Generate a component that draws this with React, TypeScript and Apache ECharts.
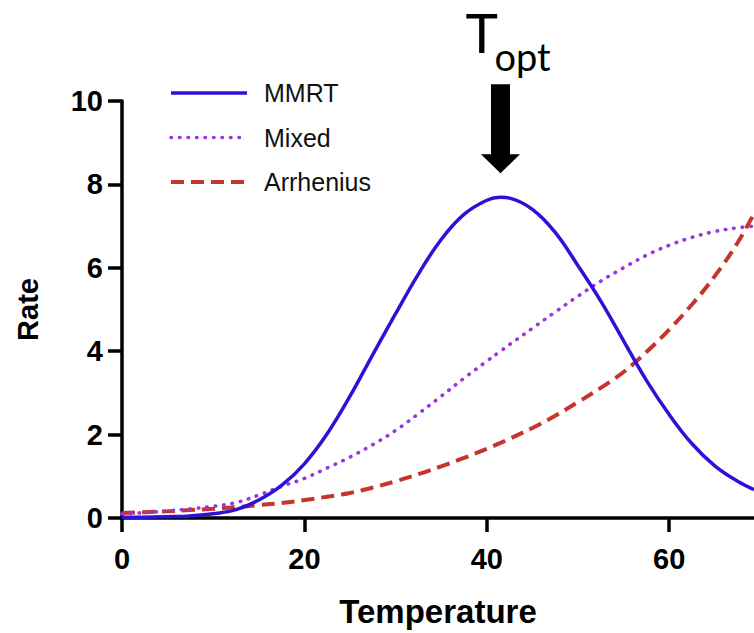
import { useEffect, useRef } from "react";
import * as echarts from "echarts";

// Temperature grid of the model curves
const temperature = [
  0, 2.5, 5, 7.5, 10, 12.5, 15, 17.5, 20, 22.5, 25, 27.5, 30, 32.5, 35, 37.5, 40, 41.5,
  42.5, 45, 47.5, 50, 52.5, 55, 57.5, 60, 62.5, 65, 67.5, 69.3,
];

// Rate predicted by each model at the temperatures above
const mmrtRate = [
  0.02, 0.02, 0.03, 0.05, 0.1, 0.2, 0.43, 0.78, 1.3, 2.02, 2.92, 3.92, 4.9, 5.85, 6.68, 7.28,
  7.62, 7.69, 7.67, 7.4, 6.85, 6.05, 5.2, 4.25, 3.3, 2.48, 1.78, 1.25, 0.88, 0.68,
];
const mixedRate = [
  0.1, 0.13, 0.17, 0.22, 0.28, 0.37, 0.55, 0.76, 0.95, 1.2, 1.46, 1.76, 2.1, 2.5, 2.92, 3.35,
  3.76, 4.0, 4.16, 4.55, 4.94, 5.32, 5.68, 6.0, 6.3, 6.54, 6.73, 6.87, 6.96, 7.0,
];
const arrheniusRate = [
  0.12, 0.14, 0.16, 0.19, 0.22, 0.26, 0.31, 0.36, 0.43, 0.51, 0.6, 0.73, 0.88, 1.05, 1.24, 1.44,
  1.66, 1.8, 1.9, 2.16, 2.45, 2.78, 3.12, 3.5, 3.98, 4.52, 5.12, 5.8, 6.6, 7.3,
];

const seriesNames = ["MMRT", "Mixed", "Arrhenius"];
const xTicks = [0, 20, 40, 60];
const xMax = 69.3;
const yMin = 0;
const yMax = 10;
const yStep = 2;

const FONT = "'Liberation Sans', Arial, Helvetica, sans-serif";

const pairs = (ys: number[]) => temperature.map((t, i) => [t, ys[i]]);

export default function App() {
  const ref = useRef<HTMLDivElement | null>(null);

  useEffect(() => {
    document.body.style.margin = "0";
    const chart = echarts.init(ref.current!, null, { renderer: "svg" });

    const axisLine = { show: true, lineStyle: { color: "#000", width: 3.5 } };
    const axisTick = { show: true, length: 14, lineStyle: { color: "#000", width: 3.5 } };
    const tickLabel = {
      color: "#000",
      fontFamily: FONT,
      fontWeight: "bold" as const,
      fontSize: 29,
    };

    chart.setOption({
      animation: false,
      backgroundColor: "#fff",
      grid: { left: 122, right: 0, top: 101, bottom: 111, containLabel: false },
      legend: {
        orient: "vertical",
        left: 169,
        top: 80.5,
        padding: 0,
        itemWidth: 76,
        itemHeight: 25,
        itemGap: 19.5,
        data: seriesNames,
        // plain line samples, no marker in the middle
        itemStyle: { opacity: 0 },
        lineStyle: { width: "inherit", type: "inherit", cap: "inherit" },
        textStyle: {
          fontFamily: FONT,
          fontSize: 25,
          lineHeight: 25,
          color: "#111",
          padding: [0, 0, 0, 12],
        },
      },
      xAxis: {
        type: "value",
        min: 0,
        max: xMax,
        interval: 20,
        name: "Temperature",
        nameLocation: "middle",
        nameGap: 77,
        nameTextStyle: { ...tickLabel, fontSize: 33 },
        splitLine: { show: false },
        axisLine,
        axisTick: { ...axisTick, customValues: xTicks },
        axisLabel: { ...tickLabel, margin: 26, customValues: xTicks },
      },
      yAxis: {
        type: "value",
        min: yMin,
        max: yMax,
        interval: yStep,
        name: "Rate",
        nameLocation: "middle",
        nameGap: 80,
        nameRotate: 90,
        nameTextStyle: { ...tickLabel, fontSize: 29 },
        splitLine: { show: false },
        axisLine,
        axisTick,
        axisLabel: { ...tickLabel, margin: 19 },
      },
      series: [
        {
          name: "MMRT",
          type: "line",
          data: pairs(mmrtRate),
          smooth: 0.4,
          symbol: "none",
          z: 4,
          color: "#2b12d6",
          lineStyle: { color: "#2b12d6", width: 3.5 },
        },
        {
          name: "Mixed",
          type: "line",
          data: pairs(mixedRate),
          smooth: 0.4,
          symbol: "none",
          z: 3,
          color: "#9a34e2",
          lineStyle: { color: "#9a34e2", width: 3.6, type: [0.5, 8], cap: "round" },
        },
        {
          name: "Arrhenius",
          type: "line",
          data: pairs(arrheniusRate),
          smooth: 0.4,
          symbol: "none",
          z: 2,
          color: "#c6352b",
          lineStyle: { color: "#c6352b", width: 4, type: [13, 7] },
        },
      ],
    });

    // Optimum temperature: the MMRT maximum, marked with a down arrow
    let peak = 0;
    mmrtRate.forEach((v, i) => {
      if (v > mmrtRate[peak]) peak = i;
    });
    const [px, py] = chart.convertToPixel({ gridIndex: 0 }, [temperature[peak], mmrtRate[peak]]);
    const tip = py - 24;
    chart.setOption({
      graphic: [
        {
          type: "polygon",
          shape: {
            points: [
              [px - 9.5, tip - 89],
              [px + 9.5, tip - 89],
              [px + 9.5, tip - 19],
              [px + 19.5, tip - 19],
              [px, tip],
              [px - 19.5, tip - 19],
              [px - 9.5, tip - 19],
            ],
          },
          style: { fill: "#000" },
        },
        {
          type: "text",
          x: px - 35,
          y: 32,
          style: {
            text: "T",
            fontFamily: "Lato, 'Open Sans', sans-serif",
            fontSize: 55,
            fill: "#000",
            verticalAlign: "middle",
            align: "left",
          },
        },
        {
          type: "text",
          x: px - 6,
          y: 56,
          style: {
            text: "opt",
            fontFamily: "Lato, 'Open Sans', sans-serif",
            fontSize: 38,
            fill: "#000",
            verticalAlign: "middle",
            align: "left",
          },
        },
      ],
    });

    return () => chart.dispose();
  }, []);

  return (
    <div
      ref={ref}
      style={{ position: "fixed", left: 0, top: 0, width: 754, height: 633 }}
    />
  );
}
